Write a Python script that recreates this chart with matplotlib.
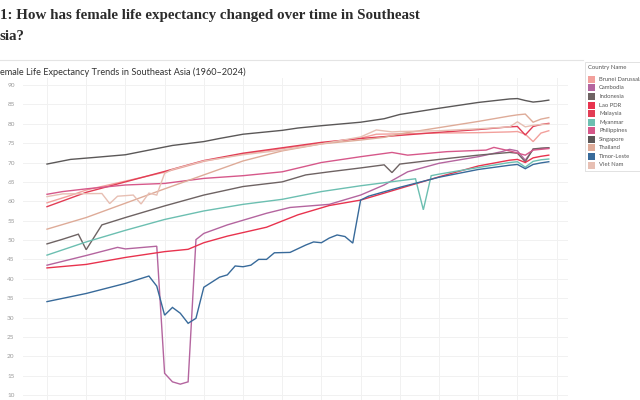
import matplotlib
matplotlib.use('Agg')
import matplotlib.pyplot as plt
import matplotlib.patches as mpatches

# vertices (year, female life expectancy)
SINGAPORE_YEARS = [1960, 1963, 1966, 1970, 1973, 1976, 1980, 1982, 1985, 1990, 1992, 1995,
                   2000, 2003, 2005, 2010, 2015, 2019, 2020, 2021, 2022, 2023, 2024]
SINGAPORE_VALS = [69.6, 70.8, 71.3, 72.0, 73.2, 74.4, 75.4, 76.2, 77.3, 78.3, 78.9, 79.5,
                  80.4, 81.3, 82.4, 84.0, 85.5, 86.4, 86.5, 86.0, 85.6, 85.8, 86.1]

BRUNEI_YEARS = [1960, 1963, 1965, 1970, 1975, 1980, 1985, 1990, 1995, 2000, 2002, 2005,
                2010, 2015, 2019, 2020, 2021, 2022, 2023, 2024]
BRUNEI_VALS = [59.6, 61.5, 62.9, 65.2, 67.5, 70.3, 72.2, 73.6, 75.0, 76.3, 77.3, 77.4,
               77.6, 77.7, 77.9, 78.0, 77.3, 75.4, 77.6, 78.2]

MALAYSIA_YEARS = [1960, 1965, 1970, 1975, 1980, 1985, 1990, 1995, 2000, 2005, 2010, 2015,
                  2019, 2020, 2021, 2022, 2023, 2024]
MALAYSIA_VALS = [58.6, 62.3, 65.0, 67.7, 70.5, 72.4, 73.8, 75.2, 76.2, 77.0, 77.8, 78.5,
                 79.2, 79.3, 77.1, 79.3, 79.8, 80.1]

THAILAND_YEARS = [1960, 1965, 1970, 1975, 1980, 1985, 1990, 1995, 2000, 2003, 2005, 2010,
                  2015, 2019, 2020, 2021, 2022, 2023, 2024]
THAILAND_VALS = [52.8, 55.8, 59.5, 63.2, 66.8, 70.4, 73.0, 74.8, 75.8, 76.5, 77.4, 79.0,
                 80.6, 82.0, 82.3, 82.5, 80.4, 81.2, 81.6]

VIETNAM_YEARS = [1960, 1962, 1967, 1968, 1969, 1971, 1972, 1973, 1974, 1975, 1976, 1980,
                 1985, 1990, 1995, 2000, 2002, 2004, 2005, 2010, 2015, 2019, 2020, 2021,
                 2022, 2023, 2024]
VIETNAM_VALS = [61.2, 61.9, 62.0, 59.4, 61.3, 61.6, 59.3, 62.1, 61.6, 67.2, 68.2, 70.4,
                72.0, 73.2, 74.8, 76.6, 78.4, 77.9, 78.0, 78.2, 78.7, 79.2, 80.5, 79.2,
                79.6, 79.8, 79.9]

PHILIPPINES_YEARS = [1960, 1962, 1965, 1970, 1975, 1980, 1985, 1990, 1995, 2000, 2004,
                     2006, 2011, 2016, 2017, 2019, 2021, 2022, 2024]
PHILIPPINES_VALS = [61.8, 62.5, 63.2, 64.2, 64.6, 65.9, 66.6, 67.6, 70.0, 71.5, 72.6,
                    71.9, 72.8, 73.2, 73.9, 73.0, 71.9, 73.2, 73.6]

INDONESIA_YEARS = [1960, 1962, 1964, 1965, 1967, 1970, 1975, 1980, 1985, 1990, 1993, 1996,
                   2000, 2003, 2004, 2005, 2010, 2015, 2019, 2020, 2021, 2022, 2023, 2024]
INDONESIA_VALS = [49.0, 50.2, 51.5, 47.5, 53.9, 55.8, 58.8, 61.6, 63.8, 65.0, 66.8, 67.6,
                  68.6, 69.4, 67.4, 69.6, 70.8, 71.9, 72.6, 72.4, 70.2, 73.5, 73.7, 73.8]

CAMBODIA_YEARS = [1960, 1965, 1969, 1970, 1974, 1975, 1976, 1977, 1978, 1979, 1980, 1983,
                  1988, 1991, 1996, 2000, 2003, 2006, 2010, 2015, 2018, 2019, 2020, 2021,
                  2022, 2023, 2024]
CAMBODIA_VALS = [43.5, 46.0, 48.1, 47.7, 48.4, 15.6, 13.4, 12.8, 13.4, 50.1, 51.7, 53.9,
                 56.9, 58.4, 59.2, 61.6, 64.2, 67.6, 69.8, 71.5, 72.8, 73.4, 73.0, 70.6,
                 73.4, 73.6, 73.8]

LAO_YEARS = [1960, 1965, 1970, 1975, 1978, 1980, 1983, 1988, 1992, 1996, 2000, 2005, 2010,
             2015, 2019, 2020, 2021, 2022, 2023, 2024]
LAO_VALS = [42.8, 43.7, 45.5, 47.0, 47.6, 49.3, 51.0, 53.3, 56.5, 58.9, 60.3, 63.3, 66.3,
            69.1, 70.6, 70.8, 70.0, 71.2, 71.6, 71.9]

MYANMAR_YEARS = [1960, 1965, 1970, 1975, 1980, 1985, 1990, 1995, 2000, 2005, 2007, 2008,
                 2009, 2010, 2015, 2019, 2020, 2021, 2022, 2023, 2024]
MYANMAR_VALS = [46.1, 49.5, 52.5, 55.3, 57.5, 59.2, 60.5, 62.5, 64.0, 65.3, 65.8, 57.8,
                66.6, 67.0, 68.7, 70.0, 70.2, 68.8, 70.3, 70.7, 70.9]

TIMOR_YEARS = [1960, 1965, 1970, 1973, 1974, 1975, 1976, 1977, 1978, 1979, 1980, 1982,
               1983, 1984, 1985, 1986, 1987, 1988, 1989, 1991, 1993, 1994, 1995, 1996,
               1997, 1998, 1999, 2000, 2001, 2005, 2010, 2015, 2019, 2020, 2021, 2022,
               2023, 2024]
TIMOR_VALS = [34.1, 36.2, 38.8, 40.7, 38.1, 30.6, 32.6, 31.1, 28.5, 29.8, 37.8, 40.4,
              41.0, 43.3, 43.1, 43.5, 45.0, 45.0, 46.7, 46.8, 48.7, 49.5, 49.3, 50.5,
              51.3, 50.9, 49.2, 60.3, 61.3, 63.6, 66.2, 68.2, 69.3, 69.5, 68.4, 69.5,
              69.9, 70.2]

COUNTRIES = ['Brunei Darussalam', 'Cambodia', 'Indonesia', 'Lao PDR', 'Malaysia', 'Myanmar',
             'Philippines', 'Singapore', 'Thailand', 'Timor-Leste', 'Viet Nam']
SERIES = {
    'Brunei Darussalam': (BRUNEI_YEARS, BRUNEI_VALS),
    'Cambodia': (CAMBODIA_YEARS, CAMBODIA_VALS),
    'Indonesia': (INDONESIA_YEARS, INDONESIA_VALS),
    'Lao PDR': (LAO_YEARS, LAO_VALS),
    'Malaysia': (MALAYSIA_YEARS, MALAYSIA_VALS),
    'Myanmar': (MYANMAR_YEARS, MYANMAR_VALS),
    'Philippines': (PHILIPPINES_YEARS, PHILIPPINES_VALS),
    'Singapore': (SINGAPORE_YEARS, SINGAPORE_VALS),
    'Thailand': (THAILAND_YEARS, THAILAND_VALS),
    'Timor-Leste': (TIMOR_YEARS, TIMOR_VALS),
    'Viet Nam': (VIETNAM_YEARS, VIETNAM_VALS),
}
COLORS = {
    'Brunei Darussalam': '#f2a09c',
    'Cambodia': '#b4659f',
    'Indonesia': '#6e6363',
    'Lao PDR': '#e8334e',
    'Malaysia': '#e23d55',
    'Myanmar': '#6cbfb1',
    'Philippines': '#d6588a',
    'Singapore': '#5b5858',
    'Thailand': '#deab98',
    'Timor-Leste': '#386a9a',
    'Viet Nam': '#e7bfb3',
}
Y_TICKS = list(range(10, 95, 5))

W, H = 640, 400


def fx(x):
    return x / W


def fy(y):
    return 1 - y / H


fig = plt.figure(figsize=(6.4, 4.0), dpi=100)

# titles (cropped on the left in the reference)
fig.text(fx(0), fy(15), '1: How has female life expectancy changed over time in Southeast',
         family='Liberation Serif', fontweight='bold', fontsize=10.8, color='#2b2b2b',
         ha='left', va='center')
fig.text(fx(0), fy(37), 'sia?', family='Liberation Serif', fontweight='bold',
         fontsize=10.8, color='#2b2b2b', ha='left', va='center')
fig.add_artist(plt.Line2D([0, fx(583)], [fy(60), fy(60)], color='#e4e4e4', lw=0.8))
fig.text(fx(0), fy(72), 'emale Life Expectancy Trends in Southeast Asia (1960–2024)',
         family='Lato', fontsize=6.6, color='#333333', ha='left', va='center')

ax = fig.add_axes([fx(23), 0, fx(568) - fx(23), 1 - 78 / H])
for c in COUNTRIES:
    yrs, vals = SERIES[c]
    ax.plot(yrs, vals, color=COLORS[c], lw=1.0, solid_joinstyle='miter', zorder=3)

ax.set_xlim(1956.94, 2026.45)
ax.set_ylim(8.71, 91.81)
ax.set_yticks(Y_TICKS)
ax.set_xticks(list(range(1960, 2030, 5)))
ax.tick_params(axis='y', length=0, pad=6, labelsize=4.6, labelcolor='#9a9a9a')
ax.tick_params(axis='x', length=0, labelbottom=False)
for lbl in ax.get_yticklabels():
    lbl.set_family('Lato')
ax.grid(True, color='#f1f1f1', lw=0.7)
ax.set_axisbelow(True)
for s in ax.spines.values():
    s.set_visible(False)

# legend panel drawn by hand
fig.add_artist(mpatches.Rectangle((fx(585), fy(171)), fx(60), fy(62) - fy(171),
                                  transform=fig.transFigure, fill=False,
                                  edgecolor='#e2e2e2', lw=0.7))
fig.text(fx(588), fy(67.5), 'Country Name', family='Lato', fontsize=4.3,
         color='#555555', ha='left', va='center')
for i, c in enumerate(COUNTRIES):
    yc = 79.3 + i * 8.57
    fig.add_artist(mpatches.Rectangle((fx(588), fy(yc + 3.5)), fx(7), fy(yc - 3.5) - fy(yc + 3.5),
                                      transform=fig.transFigure, color=COLORS[c], lw=0))
    fig.text(fx(599), fy(yc), c, family='Lato', fontsize=4.2, color='#555555',
             ha='left', va='center')

fig.savefig('out.png', dpi=100)
